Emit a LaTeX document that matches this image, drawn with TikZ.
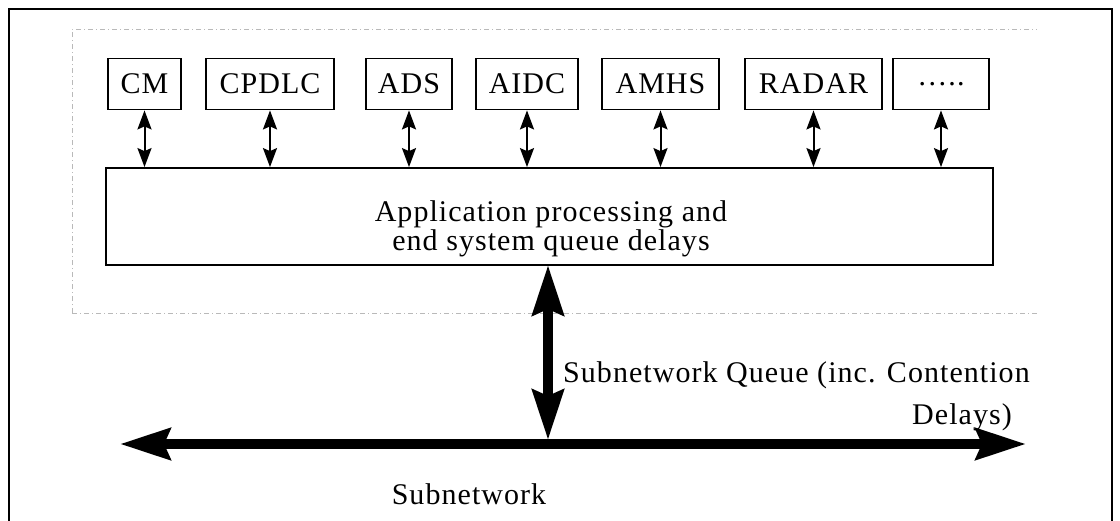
\documentclass[tikz,border=0pt]{standalone}
\usepackage{fontspec}
\setmainfont{Liberation Serif}[LetterSpace=3.5]
\usetikzlibrary{arrows.meta}
\begin{document}
\begin{tikzpicture}[x=1pt,y=-1pt,
  every node/.style={font=\fontsize{30}{31}\selectfont, inner sep=0pt},
  appbox/.style={draw, line width=1.8pt, minimum height=51pt, inner xsep=0pt},
  thinlink/.style={line width=2pt, {Stealth[length=19pt,width=14pt,inset=3pt]}-{Stealth[length=19pt,width=14pt,inset=3pt]}},
  thicklink/.style={line width=10pt, {Stealth[length=50pt,width=31pt,inset=6pt]}-{Stealth[length=50pt,width=31pt,inset=6pt]}},
  groupline/.style={gray!55, line width=0.8pt, dash pattern=on 5pt off 3pt on 1pt off 3pt}]
\useasboundingbox (0,0) rectangle (1120,520);
% outer frame, open at the bottom
\draw[line width=2.4pt] (9,521) -- (9,9) -- (1112,9) -- (1112,521);
% grouping outline round the end system
\draw[groupline] (72,313) -- (72,29) -- (1037,29);
\draw[groupline] (72,313) -- (1037,313);
% application boxes
\node[appbox, minimum width=73pt]  (cm)    at (144.5,84) {CM};
\node[appbox, minimum width=128pt] (cpdlc) at (270,84)   {CPDLC};
\node[appbox, minimum width=86pt]  (ads)   at (409,84)   {ADS};
\node[appbox, minimum width=102pt] (aidc)  at (527,84)   {AIDC};
\node[appbox, minimum width=117pt] (amhs)  at (660.5,84) {AMHS};
\node[appbox, minimum width=137pt] (radar) at (813.5,84) {RADAR};
\node[appbox, minimum width=96pt]  (more)  at (941,84)   {…..};
% processing box
\node[draw, line width=1.8pt, minimum width=887pt, minimum height=97pt] (proc) at (549.5,216.5) {};
\node[align=center, font=\fontsize{30}{29}\selectfont] (proctext) at (551,229) {Application processing and\\end system queue delays};
% links between applications and processing
\foreach \n in {cm,cpdlc,ads,aidc,amhs,radar,more}
  \draw[thinlink] (\n.south) -- (\n.south |- proc.north);
% subnetwork bus
\coordinate (busL) at (120,444);
\coordinate (busR) at (1026,444);
\draw[thicklink] (busL) -- (busR);
\coordinate (busT) at (548,440);
\draw[thicklink] (548,265) -- (busT);
% labels
\node[anchor=base west] (q1) at (563,382) {Subnetwork Queue (inc. Contention};
\node[anchor=base east] (q2) at (1012,424) {Delays)};
\node (sub) at (469,494) {Subnetwork};
\end{tikzpicture}
\end{document}
